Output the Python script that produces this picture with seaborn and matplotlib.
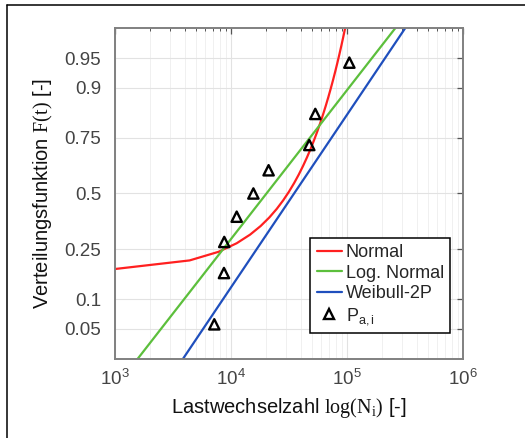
import numpy as np
import pandas as pd
import matplotlib
matplotlib.use("Agg")
import matplotlib.pyplot as plt
from matplotlib.lines import Line2D
from matplotlib.ticker import NullLocator, FixedLocator, FixedFormatter, LogLocator
import seaborn as sns
from statistics import NormalDist

# Versuchsergebnisse: Lastwechselzahl je Probe und zugehörige Ausfallwahrscheinlichkeit
cycles = [7180, 8700, 8750, 11200, 15600, 21100, 47300, 53300, 104800]
failure_prob = [0.056, 0.167, 0.278, 0.389, 0.500, 0.611, 0.722, 0.833, 0.944]

# Parameter der angepassten Verteilungen
normal_mean, normal_std = 30900.0, 32600.0      # Normalverteilung in N
lognormal_mu, lognormal_sigma = 4.306, 0.553    # log10(N)
weibull_mu, weibull_sigma = 4.544, 0.477        # Gerade im Wahrscheinlichkeitsnetz, log10(N)

model_names = ["Normal", "Log. Normal", "Weibull-2P"]
model_colors = ["#ff2020", "#5cbf3c", "#1f4fbd"]
points_label = r"$\mathsf{P_{a,i}}$"

prob_ticks = [0.05, 0.1, 0.25, 0.5, 0.75, 0.9, 0.95]
prob_tick_labels = ["0.05", "0.1", "0.25", "0.5", "0.75", "0.9", "0.95"]
x_limits = (1e3, 1e6)
z_limit = 2.01

sns.set_theme(style="white")
plt.rcParams["font.family"] = ["Liberation Sans", "DejaVu Sans"]
plt.rcParams["mathtext.fontset"] = "custom"
plt.rcParams["mathtext.rm"] = "Liberation Serif"
plt.rcParams["mathtext.it"] = "Liberation Serif:italic"
plt.rcParams["mathtext.sf"] = "Liberation Sans"

_nd = NormalDist()
_ppf = np.vectorize(_nd.inv_cdf, otypes=[float])
_cdf = np.vectorize(_nd.cdf, otypes=[float])


def probit(p):
    p = np.clip(np.asarray(p, dtype=float), 1e-12, 1 - 1e-12)
    return _ppf(p)


def inv_probit(z):
    return _cdf(np.asarray(z, dtype=float))


# Verteilungsfunktionen auf einem N-Raster auswerten
n_lin = np.arange(1000, 150001, 3400, dtype=float)
n_log = np.geomspace(*x_limits, 300)
curves = pd.concat([
    pd.DataFrame({"N": n_lin,
                  "F": inv_probit((n_lin - normal_mean) / normal_std),
                  "Modell": model_names[0]}),
    pd.DataFrame({"N": n_log,
                  "F": inv_probit((np.log10(n_log) - lognormal_mu) / lognormal_sigma),
                  "Modell": model_names[1]}),
    pd.DataFrame({"N": n_log,
                  "F": inv_probit((np.log10(n_log) - weibull_mu) / weibull_sigma),
                  "Modell": model_names[2]}),
], ignore_index=True)
curves["F"] = curves["F"].clip(1e-12, 1 - 1e-12)
points = pd.DataFrame({"N": cycles, "F": failure_prob})

fig = plt.figure(figsize=(5.25, 4.38), dpi=100)
ax = fig.add_axes([0.2190, 0.1804, 0.6629, 0.7557])
ax.set_xscale("log")
ax.set_yscale("function", functions=(probit, inv_probit))

sns.lineplot(data=curves, x="N", y="F", hue="Modell", hue_order=model_names,
             palette=dict(zip(model_names, model_colors)), estimator=None,
             linewidth=1.6, legend=False, ax=ax)
sns.scatterplot(data=points, x="N", y="F", marker="^", s=55, facecolor="none",
                edgecolor="black", linewidth=1.7, legend=False, ax=ax, zorder=5)

ax.set_xlim(*x_limits)
ax.set_ylim(inv_probit(-z_limit), inv_probit(z_limit))

ax.yaxis.set_major_locator(FixedLocator(prob_ticks))
ax.yaxis.set_major_formatter(FixedFormatter(prob_tick_labels))
ax.yaxis.set_minor_locator(NullLocator())
ax.xaxis.set_major_locator(LogLocator(base=10, numticks=10))
ax.xaxis.set_minor_locator(LogLocator(base=10, subs=np.arange(2, 10), numticks=20))

ax.grid(True, which="major", color="#e2e2e2", linewidth=0.8)
ax.grid(True, which="minor", axis="x", color="#eeeeee", linewidth=0.6)
ax.set_axisbelow(True)

ax.tick_params(which="both", direction="in", top=True, right=True,
               color="#555555", labelcolor="#444444")
ax.tick_params(which="major", length=4.5, width=0.9)
ax.tick_params(which="minor", length=2.5, width=0.7)
ax.tick_params(axis="y", labelsize=13.5, pad=10)
ax.tick_params(axis="x", labelsize=13.5, pad=7)
for spine in ax.spines.values():
    spine.set_color("#808080")
    spine.set_linewidth(1.4)

ax.set_xlabel(r"Lastwechselzahl $\mathrm{log(N_i)}$ [-]", fontsize=14.5,
              color="#111111", labelpad=5)
ax.set_ylabel(r"Verteilungsfunktion $\mathrm{F(t)}$ [-]", fontsize=14.5,
              color="#111111", labelpad=7)

handles = [Line2D([], [], color=c, linewidth=1.6) for c in model_colors]
handles.append(Line2D([], [], linestyle="none", marker="^", markersize=7.5,
                      markerfacecolor="none", markeredgecolor="black",
                      markeredgewidth=1.7))
leg = ax.legend(handles, model_names + [points_label], loc="lower right",
                bbox_to_anchor=(0.963, 0.0785), frameon=True, fancybox=False,
                framealpha=1, edgecolor="black", fontsize=13, handlelength=1.4,
                handletextpad=0.2, labelspacing=0.2, borderpad=0.35,
                borderaxespad=0)
leg.get_frame().set_linewidth(1.1)

# Rahmen oben und links
fig.add_artist(Line2D([7 / 525, 7 / 525], [0, 1 - 4.5 / 438],
                      transform=fig.transFigure, color="black", linewidth=1.1))
fig.add_artist(Line2D([7 / 525, 1], [1 - 4.5 / 438, 1 - 4.5 / 438],
                      transform=fig.transFigure, color="black", linewidth=1.1))

fig.savefig("out.png", dpi=100, facecolor="white")
